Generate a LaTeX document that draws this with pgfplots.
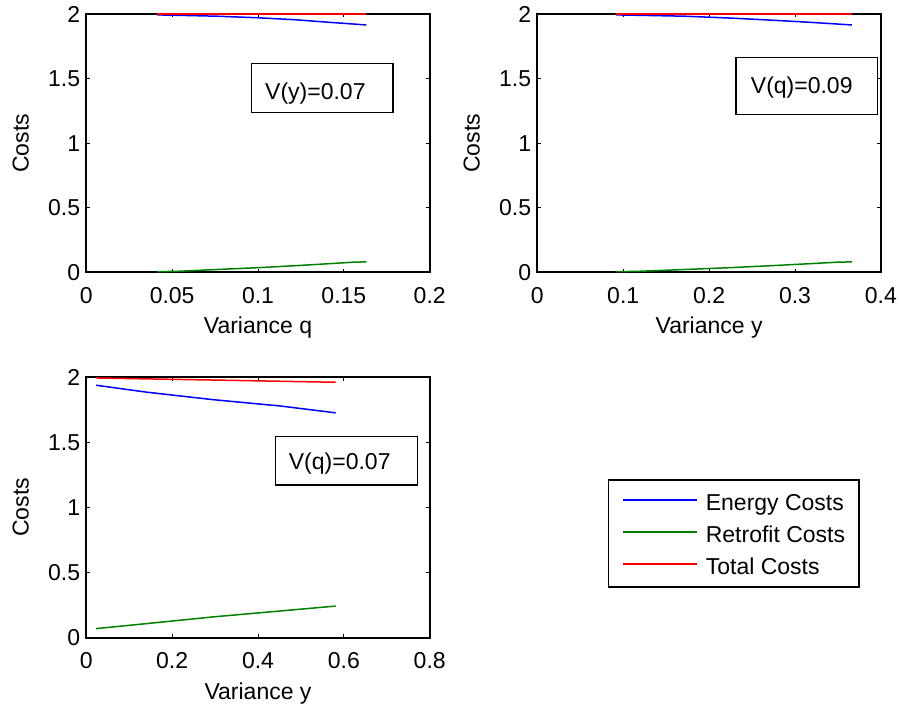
\documentclass[border=0pt]{standalone}
\usepackage{pgfplots}
\pgfplotsset{compat=1.18}
\usepackage{fontspec}
\setmainfont{Liberation Sans}
\definecolor{mblue}{RGB}{0,0,255}
\definecolor{mgreen}{RGB}{0,128,0}
\definecolor{mred}{RGB}{255,0,0}
\pgfplotsset{
  costaxis/.style={
    scale only axis,
    set layers,
    width=343.4pt,
    height=258.5pt,
    ymin=0, ymax=2,
    ytick={0,0.5,1,1.5,2},
    yticklabels={0,0.5,1,1.5,2},
    scaled ticks=false,
    tick align=inside,
    xtick pos=both, ytick pos=both,
    major tick length=3.5pt,
    every tick/.style={black, line width=1pt},
    separate axis lines,
    axis line style={black, line width=2pt, line cap=rect},
    axis background/.style={draw=black, line width=2pt},
    clip=false,
    /pgf/number format/assume math mode=true,
    xticklabel style={anchor=base, yshift=-31pt},
    yticklabel style={anchor=east, inner sep=0pt, xshift=-6pt},
    every axis y label/.style={at={(axis description cs:-0.1907,0.5)}, rotate=90, anchor=center},
    every axis x label/.style={at={(axis description cs:0.5,0)}, anchor=base, yshift=-61.5pt},
    ylabel={Costs},
  },
  every axis plot/.append style={line width=1.5pt, no marks},
}
\begin{document}
\fontsize{23}{27}\selectfont
\begin{tikzpicture}
% top left: variance q, V(y)=0.07
\begin{axis}[costaxis,
  at={(86.3pt,433.5pt)}, anchor=south west,
  xmin=0, xmax=0.2,
  xtick={0,0.05,0.1,0.15,0.2},
  xticklabels={0,0.05,0.1,0.15,0.2},
  xlabel={Variance q},
]
  \addplot[mblue] coordinates {
    (0.0412,1.993) (0.053,1.990) (0.0757,1.983) (0.0995,1.971)
    (0.121,1.956) (0.140,1.937) (0.156,1.922) (0.1631,1.915)
  };
  \addplot[mgreen] coordinates {
    (0.0412,0.006) (0.053,0.009) (0.0757,0.023) (0.0995,0.037)
    (0.121,0.052) (0.140,0.067) (0.156,0.080) (0.1631,0.082)
  };
  \addplot[mred] coordinates {
    (0.0412,2.0) (0.1631,2.0)
  };
\end{axis}
% top right: variance y, V(q)=0.09
\begin{axis}[costaxis,
  at={(537.3pt,433.5pt)}, anchor=south west,
  width=343.6pt,
  xmin=0, xmax=0.4,
  xtick={0,0.1,0.2,0.3,0.4},
  xticklabels={0,0.1,0.2,0.3,0.4},
  xlabel={Variance y},
]
  \addplot[mblue] coordinates {
    (0.0915,1.993) (0.117,1.990) (0.171,1.983) (0.223,1.969)
    (0.2705,1.953) (0.314,1.937) (0.350,1.922) (0.3663,1.915)
  };
  \addplot[mgreen] coordinates {
    (0.0915,0.006) (0.117,0.009) (0.171,0.023) (0.223,0.037)
    (0.2705,0.052) (0.314,0.067) (0.350,0.080) (0.3663,0.082)
  };
  \addplot[mred] coordinates {
    (0.0915,2.0) (0.3663,2.0)
  };
\end{axis}
% bottom left: variance y, V(q)=0.07
\begin{axis}[costaxis,
  at={(86.3pt,68.3pt)}, anchor=south west,
  height=260.4pt,
  xmin=0, xmax=0.8,
  xtick={0,0.2,0.4,0.6,0.8},
  xticklabels={0,0.2,0.4,0.6,0.8},
  xlabel={Variance y},
  legend style={
    at={(axis description cs:1.518,0.6094)}, anchor=north west,
    draw=black, line width=1.5pt, fill=white,
    inner xsep=14pt, inner ysep=7pt, row sep=3pt,
    nodes={inner sep=0pt, text height=24pt, text depth=5pt},
    /tikz/every odd column/.append style={column sep=8pt},
  },
  legend cell align=left,
  legend image code/.code={
    \draw[#1, line width=1.5pt] (0pt,1.2pt) -- (74pt,1.2pt);
  },
]
  \addplot[mblue] coordinates {
    (0.023,1.939) (0.140,1.886) (0.296,1.828) (0.451,1.780) (0.581,1.727)
  };
  \addlegendentry{Energy Costs}
  \addplot[mgreen] coordinates {
    (0.023,0.070) (0.140,0.108) (0.296,0.160) (0.451,0.205) (0.581,0.243)
  };
  \addlegendentry{Retrofit Costs}
  \addplot[mred] coordinates {
    (0.023,1.995) (0.120,1.989) (0.330,1.977) (0.510,1.966) (0.581,1.962)
  };
  \addlegendentry{Total Costs}
\end{axis}
% annotation boxes
\draw[black, line width=1.5pt] (251.7pt,642.7pt) rectangle (393pt,593.3pt);
\node[anchor=base west, inner sep=0pt] at (265pt,606.7pt) {V(y)=0.07};
\draw[black, line width=1.5pt] (736pt,648.3pt) rectangle (877.3pt,591.7pt);
\node[anchor=base west, inner sep=0pt] at (750.7pt,612.7pt) {V(q)=0.09};
\draw[black, line width=1.5pt] (275.3pt,269.3pt) rectangle (417.3pt,221pt);
\node[anchor=base west, inner sep=0pt] at (288.7pt,236.7pt) {V(q)=0.07};
\pgfresetboundingbox
\path (0pt,0pt) rectangle (899pt,706pt);
\end{tikzpicture}
\end{document}
